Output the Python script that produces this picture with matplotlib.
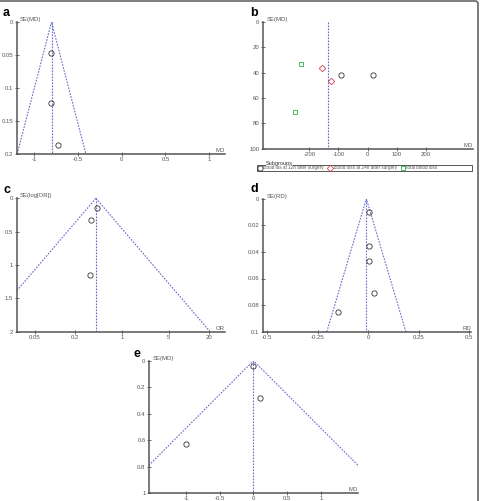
import numpy as np
import matplotlib
matplotlib.use("Agg")
import matplotlib.pyplot as plt
from matplotlib.ticker import FixedLocator, FixedFormatter
from matplotlib.patches import FancyBboxPatch, Rectangle

plt.rcParams['font.family'] = ['Liberation Sans', 'DejaVu Sans']

# panel a
a_md = [-0.806, -0.806, -0.726]
a_se = [0.047, 0.123, 0.186]
a_pool = -0.8

# panel b (subgroups)
b_12h_md = [-92, 18]
b_12h_se = [41.6, 41.8]
b_24h_md = [-157, -126]
b_24h_se = [36.3, 46.8]
b_tot_md = [-228, -249]
b_tot_se = [32.9, 71.3]
b_pool = -136
b_labels = ["blood los at 12h after surgery", "blood loss at 24h after surgery", "total blood loss"]

# panel c
c_or = [0.42, 0.352, 0.336]
c_se = [0.15, 0.33, 1.155]
c_pool = 0.41

# panel d
d_rd = [0.003, 0.003, 0.003, 0.028, -0.148]
d_se = [0.0098, 0.0356, 0.0468, 0.0711, 0.0852]
d_pool = -0.009

# panel e
e_md = [0.0, 0.098, -1.0]
e_se = [0.037, 0.285, 0.63]
e_pool = 0.0

W, H = 480, 501
fig = plt.figure(figsize=(W / 100, H / 100), dpi=100)

gray = '#555555'
funnel_col = '#6a6ad0'
fs = 4.3


def make_ax(left, right, top, bottom):
    ax = fig.add_axes([left / W, 1 - bottom / H, (right - left) / W, (bottom - top) / H])
    for s in ['top', 'right']:
        ax.spines[s].set_visible(False)
    for s in ['left', 'bottom']:
        ax.spines[s].set_color(gray)
        ax.spines[s].set_linewidth(1.1)
    ax.tick_params(direction='inout', length=3, width=0.6, colors=gray,
                   labelsize=fs, pad=1.2)
    ax.tick_params(axis='x', pad=0.6)
    ax.patch.set_alpha(0)
    return ax


def set_ticks(ax, xt, xl, yt, yl):
    ax.xaxis.set_major_locator(FixedLocator(xt))
    ax.xaxis.set_major_formatter(FixedFormatter(xl))
    ax.yaxis.set_major_locator(FixedLocator(yt))
    ax.yaxis.set_major_formatter(FixedFormatter(yl))
    ax.xaxis.set_minor_locator(FixedLocator([]))


def labels(ax, ylab, xlab, letter, lx, ly):
    ax.text(0.015, 1.0, ylab, transform=ax.transAxes, ha='left', va='bottom',
            fontsize=fs, color=gray)
    ax.text(1.0, 0.005, xlab, transform=ax.transAxes, ha='right', va='bottom',
            fontsize=fs, color=gray)
    fig.text(lx / W, 1 - ly / H, letter, ha='left', va='center',
             fontsize=9, fontweight='bold', color='black')


def funnel(ax, pool, semax, log=False):
    style = dict(color=funnel_col, lw=0.8, ls=(0, (1.5, 1.2)))
    ax.plot([pool, pool], [0, semax], **style)
    if log:
        se = np.linspace(0, semax, 50)
        ax.plot(np.exp(np.log(pool) - 1.96 * se), se, **style)
        ax.plot(np.exp(np.log(pool) + 1.96 * se), se, **style)
    else:
        ax.plot([pool - 1.96 * semax, pool, pool + 1.96 * semax], [semax, 0, semax], **style)


def pts(ax, x, y, **kw):
    opts = dict(ls='none', marker='o', ms=3.8, mfc='none', mec='#333333', mew=0.6)
    opts.update(kw)
    return ax.plot(x, y, **opts)[0]


# a
ax = make_ax(17, 225, 22, 154)
funnel(ax, a_pool, 0.2)
pts(ax, a_md, a_se)
ax.set_xlim(-1.194, 1.18)
ax.set_ylim(0.2, 0)
set_ticks(ax, [-1, -0.5, 0, 0.5, 1], ['-1', '-0.5', '0', '0.5', '1'],
          [0, 0.05, 0.1, 0.15, 0.2], ['0', '0.05', '0.1', '0.15', '0.2'])
labels(ax, 'SE(MD)', 'MD', 'a', 3, 13)

# b
ax = make_ax(263.3, 473, 22, 148.7)
ax.plot([b_pool, b_pool], [0, 100], color=funnel_col, lw=0.8, ls=(0, (1.5, 1.2)))
h1 = pts(ax, b_12h_md, b_12h_se, label=b_labels[0])
h2 = pts(ax, b_24h_md, b_24h_se, marker='D', ms=3.3, mec='#d04050', label=b_labels[1])
h3 = pts(ax, b_tot_md, b_tot_se, marker='s', ms=3.3, mec='#30b040', label=b_labels[2])
ax.set_xlim(-358, 362)
ax.set_ylim(100, 0)
set_ticks(ax, [-200, -100, 0, 100, 200], ['-200', '-100', '0', '100', '200'],
          [0, 20, 40, 60, 80, 100], ['0', '20', '40', '60', '80', '100'])
labels(ax, 'SE(MD)', 'MD', 'b', 250, 13)

# legend box drawn by hand so it can stretch under the panel
fig.add_artist(Rectangle((256.7 / W, 1 - 170.7 / H), 215 / W, 6 / H,
                         transform=fig.transFigure, fc='white', ec=gray, lw=0.7))
leg = fig.legend(handles=[h1, h2, h3], loc='center left', ncol=3,
                 bbox_to_anchor=(257.5 / W, 1 - 167.8 / H),
                 fontsize=3.3, frameon=False, borderpad=0,
                 handlelength=1.0, handletextpad=0.3,
                 columnspacing=0.8, borderaxespad=0)
for t in leg.get_texts():
    t.set_color(gray)
fig.text(266 / W, 1 - 163.2 / H, 'Subgroups', fontsize=4.0, color='#333333',
         ha='left', va='center', bbox=dict(fc='white', ec='none', pad=0.2))

# c
ax = make_ax(17, 225, 198.3, 331.7)
ax.set_xscale('log')
funnel(ax, c_pool, 2, log=True)
pts(ax, c_or, c_se)
ax.set_xlim(0.0273, 34.5)
ax.set_ylim(2, 0)
set_ticks(ax, [0.05, 0.2, 1, 5, 20], ['0.05', '0.2', '1', '5', '20'],
          [0, 0.5, 1, 1.5, 2], ['0', '0.5', '1', '1.5', '2'])
labels(ax, 'SE(log[OR])', 'OR', 'c', 4, 190)

# d
ax = make_ax(263.3, 471, 198.7, 331.7)
funnel(ax, d_pool, 0.1)
pts(ax, d_rd, d_se)
ax.set_xlim(-0.52, 0.51)
ax.set_ylim(0.1, 0)
set_ticks(ax, [-0.5, -0.25, 0, 0.25, 0.5], ['-0.5', '-0.25', '0', '0.25', '0.5'],
          [0, 0.02, 0.04, 0.06, 0.08, 0.1], ['0', '0.02', '0.04', '0.06', '0.08', '0.1'])
labels(ax, 'SE(RD)', 'RD', 'd', 250, 189)

# e
ax = make_ax(149.3, 358, 360.7, 493)
funnel(ax, e_pool, 1)
pts(ax, e_md, e_se)
ax.set_xlim(-1.544, 1.55)
ax.set_ylim(1, 0)
set_ticks(ax, [-1, -0.5, 0, 0.5, 1], ['-1', '-0.5', '0', '0.5', '1'],
          [0, 0.2, 0.4, 0.6, 0.8, 1], ['0', '0.2', '0.4', '0.6', '0.8', '1'])
labels(ax, 'SE(MD)', 'MD', 'e', 134, 354)

# outer frame (only top and right edges show)
frame = FancyBboxPatch((-20 / W, -20 / H), (478 + 20) / W, (500 + 20) / H,
                       boxstyle='round,pad=0,rounding_size=0.006',
                       transform=fig.transFigure, fc='none', ec='#666666', lw=1.2)
fig.add_artist(frame)

fig.savefig('out.png', dpi=100)
